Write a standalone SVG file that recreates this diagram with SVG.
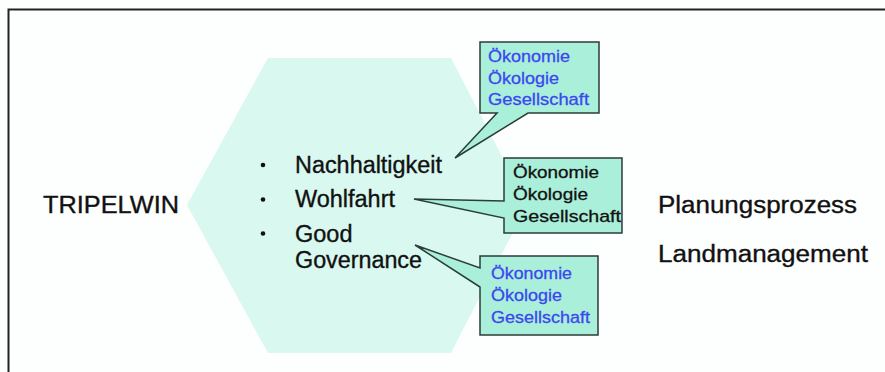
<svg xmlns="http://www.w3.org/2000/svg" width="885" height="372" viewBox="0 0 885 372">
<style>
.lbl{font-family:"Liberation Sans",Arial,sans-serif;font-size:23.5px;fill:#111;stroke:#111;stroke-width:0.35}
.co{font-family:"Liberation Sans",Arial,sans-serif;font-size:17px;stroke-width:0.3}
.blue{fill:#3c46f0;stroke:#3c46f0}
.black{fill:#111;stroke:#111}
.call{fill:#a9efd9;stroke:#2b3d38;stroke-width:1.5;stroke-linejoin:miter}
</style>
<rect x="0" y="0" width="885" height="372" fill="#fdfefe"/>
<path d="M8.5,372 V9.5 H885" fill="none" stroke="#222" stroke-width="2"/>
<g id="hexagon">
<polygon points="268,58 451,58 527,205 451,353 268,353 187,205" fill="#d8f8f0"/>
</g>
<g id="tripelwin"><text class="lbl" x="43" y="213" textLength="136" lengthAdjust="spacingAndGlyphs" font-size="25">TRIPELWIN</text></g>
<g id="list">
<circle cx="263" cy="165" r="2.3" fill="#111"/>
<circle cx="263" cy="199.5" r="2.3" fill="#111"/>
<circle cx="263" cy="233.5" r="2.3" fill="#111"/>
<text class="lbl" x="295" y="173" textLength="147" lengthAdjust="spacingAndGlyphs">Nachhaltigkeit</text>
<text class="lbl" x="295" y="207" textLength="100" lengthAdjust="spacingAndGlyphs">Wohlfahrt</text>
<text class="lbl" x="295" y="242">Good</text>
<text class="lbl" x="295" y="268" textLength="127" lengthAdjust="spacingAndGlyphs">Governance</text>
</g>
<g id="right-labels">
<text class="lbl" x="658" y="213" textLength="199" lengthAdjust="spacingAndGlyphs">Planungsprozess</text>
<text class="lbl" x="658" y="262" textLength="210" lengthAdjust="spacingAndGlyphs">Landmanagement</text>
</g>
<g id="connectors">
<path class="call" d="M480,42 H599 V113 H528 L455,158 L497,113 H480 Z"/>
<path class="call" d="M504,158 H622 V233 H504 V218 L414,199 L504,201 Z"/>
<path class="call" d="M480,256 H598 V335 H480 V287 L415,245 L480,268 Z"/>
</g>
<g id="callout-top">
<text class="co blue" x="488" y="62" textLength="82" lengthAdjust="spacingAndGlyphs">Ökonomie</text>
<text class="co blue" x="488" y="84" textLength="71" lengthAdjust="spacingAndGlyphs">Ökologie</text>
<text class="co blue" x="488" y="105" textLength="101" lengthAdjust="spacingAndGlyphs">Gesellschaft</text>
</g>
<g id="callout-mid">
<text class="co black" x="513" y="178" textLength="86" lengthAdjust="spacingAndGlyphs">Ökonomie</text>
<text class="co black" x="513" y="200" textLength="75" lengthAdjust="spacingAndGlyphs">Ökologie</text>
<text class="co black" x="513" y="222" textLength="108" lengthAdjust="spacingAndGlyphs">Gesellschaft</text>
</g>
<g id="callout-bottom">
<text class="co blue" x="491" y="279" textLength="81" lengthAdjust="spacingAndGlyphs">Ökonomie</text>
<text class="co blue" x="491" y="301" textLength="71" lengthAdjust="spacingAndGlyphs">Ökologie</text>
<text class="co blue" x="491" y="323" textLength="99" lengthAdjust="spacingAndGlyphs">Gesellschaft</text>
</g>
</svg>
